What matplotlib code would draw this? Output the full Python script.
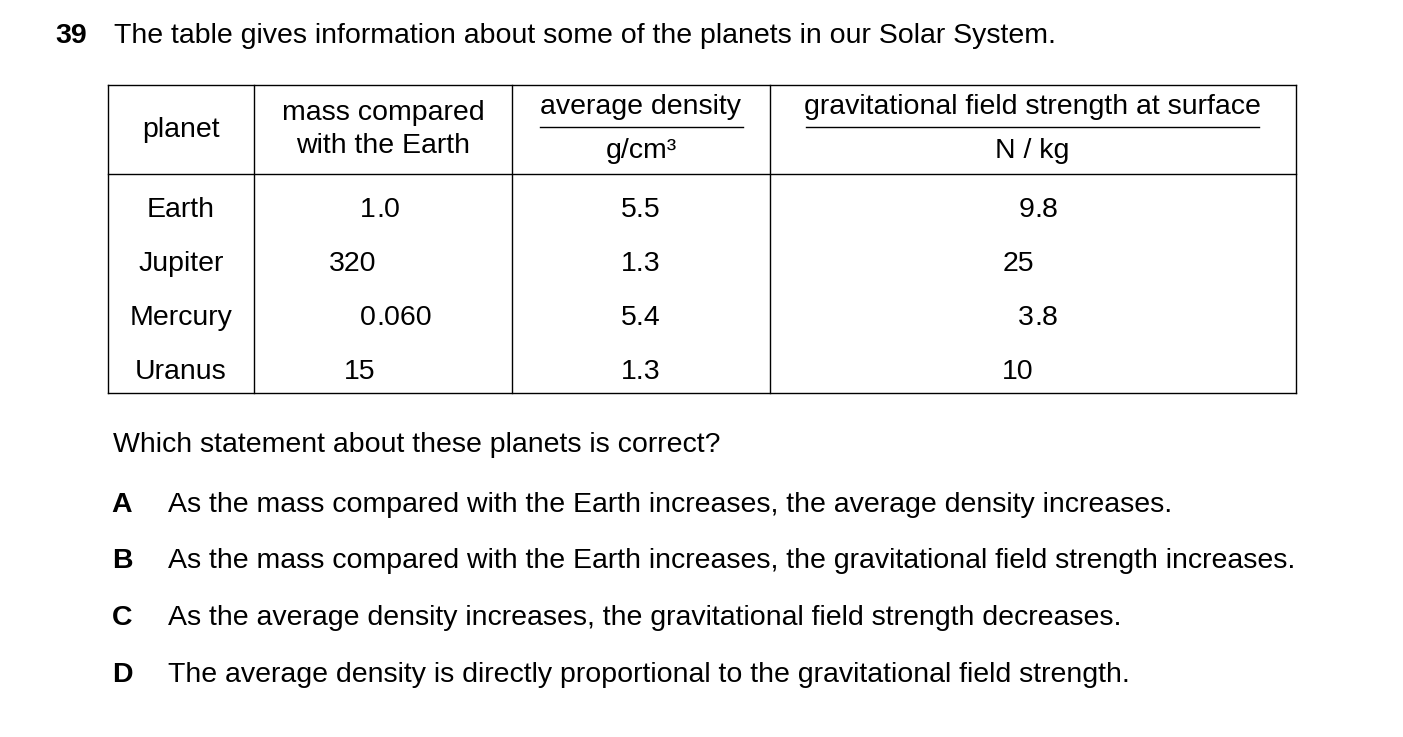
import matplotlib
matplotlib.use("Agg")
import matplotlib.pyplot as plt

planets = ["Earth", "Jupiter", "Mercury", "Uranus"]
mass = ["1.0", "320", "0.060", "15"]
density = ["5.5", "1.3", "5.4", "1.3"]
gravity = ["9.8", "25", "3.8", "10"]
options = [("A", "As the mass compared with the Earth increases, the average density increases."),
           ("B", "As the mass compared with the Earth increases, the gravitational field strength increases."),
           ("C", "As the average density increases, the gravitational field strength decreases."),
           ("D", "The average density is directly proportional to the gravitational field strength.")]

plt.rcParams['font.family'] = ['Liberation Sans', 'DejaVu Sans']
fig = plt.figure(figsize=(14.03, 7.37), dpi=100)
ax = fig.add_axes([0, 0, 1, 1])
ax.set_xlim(0, 1403); ax.set_ylim(737, 0); ax.axis('off')

fs = 20.5
ax.text(55, 36, "39", fontsize=fs, fontweight='bold', va='center')
ax.text(114, 36, "The table gives information about some of the planets in our Solar System.", fontsize=fs, va='center')

L, R, T, H, B = 108, 1296, 85, 174, 393
cols = [254, 512, 770]
lw = 1.0
for y in (T, H, B):
    ax.plot([L, R], [y, y], color='black', lw=lw)
for x in [L] + cols + [R]:
    ax.plot([x, x], [T, B], color='black', lw=lw)

ax.text(181, 130, "planet", fontsize=fs, ha='center', va='center')
ax.text(383, 113, "mass compared", fontsize=fs, ha='center', va='center')
ax.text(383, 146, "with the Earth", fontsize=fs, ha='center', va='center')
ax.text(641, 107, "average density", fontsize=fs, ha='center', va='center')
ax.plot([540, 743], [127, 127], color='black', lw=lw)
ax.text(641, 151, "g/cm\u00b3", fontsize=fs, ha='center', va='center')
ax.text(1032, 107, "gravitational field strength at surface", fontsize=fs, ha='center', va='center')
ax.plot([806, 1259], [127, 127], color='black', lw=lw)
ax.text(1032, 151, "N / kg", fontsize=fs, ha='center', va='center')

def dec(x, y, s):
    ip, _, fp = s.partition('.')
    ax.text(x, y, ip, fontsize=fs, ha='right', va='center')
    if fp:
        ax.text(x, y, "." + fp, fontsize=fs, ha='left', va='center')

rows_y = [210, 264, 318, 372]
for i, y in enumerate(rows_y):
    ax.text(181, y, planets[i], fontsize=fs, ha='center', va='center')
    dec(376, y, mass[i])
    ax.text(641, y, density[i], fontsize=fs, ha='center', va='center')
    dec(1034, y, gravity[i])

ax.text(113, 445, "Which statement about these planets is correct?", fontsize=fs, va='center')
for i, (k, s) in enumerate(options):
    y = 505 + i * 56.5
    ax.text(122, y, k, fontsize=fs, fontweight='bold', ha='center', va='center')
    ax.text(168, y, s, fontsize=fs, va='center')

fig.savefig("out.png", dpi=100)
